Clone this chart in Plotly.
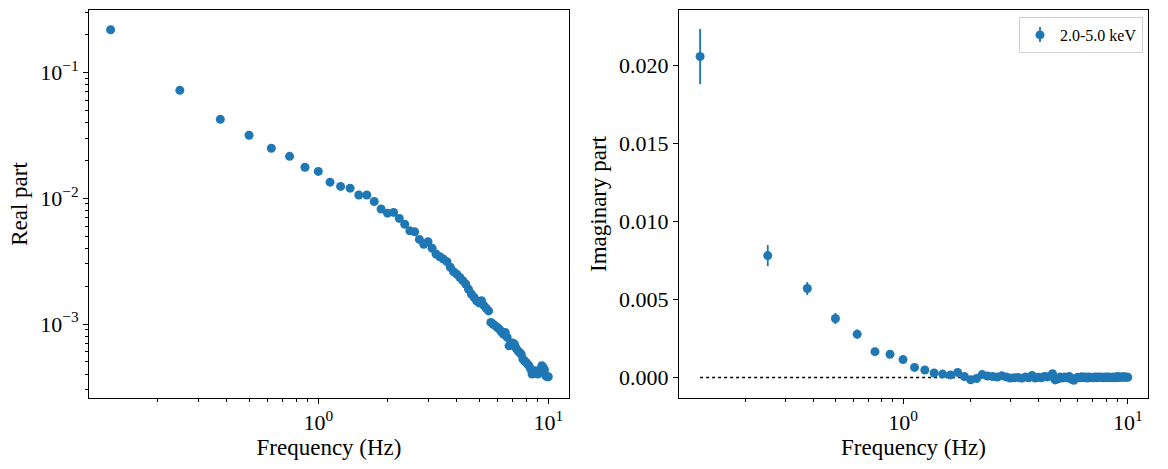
import plotly.graph_objects as go

freq = [0.125, 0.25, 0.375, 0.5, 0.625, 0.75, 0.875, 1.0, 1.125, 1.25,
        1.375, 1.5, 1.625, 1.75, 1.875, 2.0, 2.125, 2.25, 2.375, 2.5,
        2.625, 2.75, 2.875, 3.0, 3.125, 3.25, 3.375, 3.5, 3.625, 3.75,
        3.875, 4.0, 4.125, 4.25, 4.375, 4.5, 4.625, 4.75, 4.875, 5.0,
        5.125, 5.25, 5.375, 5.5, 5.625, 5.75, 5.875, 6.0, 6.125, 6.25,
        6.375, 6.5, 6.625, 6.75, 6.875, 7.0, 7.125, 7.25, 7.375, 7.5,
        7.625, 7.75, 7.875, 8.0, 8.125, 8.25, 8.375, 8.5, 8.625, 8.75,
        8.875, 9.0, 9.125, 9.25, 9.375, 9.5, 9.625, 9.75, 9.875, 10.0]

real_part = [0.218, 0.0719, 0.0423, 0.0316, 0.0249, 0.0215, 0.0176, 0.0163, 0.0134, 0.0124,
             0.0120, 0.0106, 0.0106, 0.0094, 0.0082, 0.0076, 0.0077, 0.0069, 0.0062, 0.0055,
             0.0054, 0.0047, 0.0043, 0.0045, 0.0040, 0.0036, 0.00342, 0.00328, 0.00313, 0.00282,
             0.0026, 0.00249, 0.00234, 0.00221, 0.00208, 0.00189, 0.00173, 0.00163, 0.00153, 0.00147,
             0.00153, 0.00140, 0.00133, 0.00127, 0.00103, 0.000998, 0.00097, 0.00094, 0.00091, 0.000868,
             0.00083, 0.000857, 0.000782, 0.000671, 0.00068, 0.000705, 0.000692, 0.00064, 0.000612, 0.000594,
             0.000576, 0.000526, 0.00051, 0.000495, 0.00048, 0.000465, 0.000438, 0.0004, 0.000407, 0.000425,
             0.000417, 0.0004, 0.000425, 0.000438, 0.000466, 0.000452, 0.000433, 0.000388, 0.000381, 0.000381]

imag_part = [0.02055, 0.0078, 0.00569, 0.00377, 0.00277, 0.00165, 0.00148, 0.00114, 0.00064, 0.00047,
             0.00028, 0.00021, 0.00016, 0.00031, 0.00006, -0.00015, -0.00007, 0.00018, 0.00009, 0.00006,
             0.00002, 0.00010, 0.00003, -0.00004, -0.00003, 0.00000, -0.00005, 0.00002, -0.00002, 0.00012,
             -0.00004, 0.00001, -0.00003, 0.00005, 0.00003, 0.00008, 0.00024, -0.00016, -0.00010, 0.00002,
             -0.00004, 0.00003, -0.00002, 0.00005, -0.00012, -0.00018, -0.00005, 0.00001, -0.00003, 0.00004,
             -0.00002, 0.00002, -0.00004, 0.00003, 0.00000, -0.00003, 0.00002, -0.00002, 0.00003, -0.00001,
             0.00002, -0.00003, 0.00001, 0.00002, -0.00002, 0.00003, 0.00000, -0.00002, 0.00002, 0.00001,
             -0.00003, 0.00005, 0.00002, -0.00001, 0.00003, 0.00004, 0.00002, 0.00001, 0.00003, 0.00001]

imag_err = [0.00177, 0.00068, 0.00042, 0.00036, 0.00030, 0.00025, 0.00022, 0.00020, 0.00017, 0.00015,
            0.00013, 0.00012, 0.00011, 0.00011, 0.00010, 0.00010, 0.00009, 0.00009, 0.00009, 0.00008,
            0.00008, 0.00008, 0.00008, 0.00007, 0.00007, 0.00007, 0.00007, 0.00007, 0.00006, 0.00006,
            0.00006, 0.00006, 0.00006, 0.00006, 0.00005, 0.00005, 0.00005, 0.00005, 0.00005, 0.00005,
            0.00005, 0.00005, 0.00005, 0.00004, 0.00004, 0.00004, 0.00004, 0.00004, 0.00004, 0.00004,
            0.00004, 0.00004, 0.00004, 0.00004, 0.00004, 0.00004, 0.00003, 0.00003, 0.00003, 0.00003,
            0.00003, 0.00003, 0.00003, 0.00003, 0.00003, 0.00003, 0.00003, 0.00003, 0.00003, 0.00003,
            0.00003, 0.00003, 0.00003, 0.00003, 0.00003, 0.00003, 0.00003, 0.00003, 0.00003, 0.00003]

zero_line_x = [0.125, 10.0]
zero_line_y = [0.0, 0.0]

x_tickvals = [1, 10]
x_ticktext = ["10<sup>0</sup>", "10<sup>1</sup>"]
x_minor = [0.2, 0.3, 0.4, 0.5, 0.6, 0.7, 0.8, 0.9, 2, 3, 4, 5, 6, 7, 8, 9]
yl_tickvals = [1e-3, 1e-2, 1e-1]
yl_ticktext = ["10<sup>\u22123</sup>", "10<sup>\u22122</sup>", "10<sup>\u22121</sup>"]
yl_minor = [3e-4, 4e-4, 5e-4, 6e-4, 7e-4, 8e-4, 9e-4,
            2e-3, 3e-3, 4e-3, 5e-3, 6e-3, 7e-3, 8e-3, 9e-3,
            2e-2, 3e-2, 4e-2, 5e-2, 6e-2, 7e-2, 8e-2, 9e-2, 2e-1, 3e-1]
yr_tickvals = [0.0, 0.005, 0.010, 0.015, 0.020]
yr_ticktext = ["0.000", "0.005", "0.010", "0.015", "0.020"]

BLUE = "#1f77b4"
FONT = "Liberation Serif, DejaVu Serif, serif"
W, H = 1168, 469
TICK_SIZE = 22
TITLE_SIZE = 23

fig = go.Figure()
fig.add_trace(go.Scatter(x=freq, y=real_part, mode="markers",
                         marker=dict(color=BLUE, size=9), showlegend=False,
                         xaxis="x", yaxis="y"))
fig.add_trace(go.Scatter(x=zero_line_x, y=zero_line_y, mode="lines",
                         line=dict(color="black", dash="dot", width=1.5), showlegend=False,
                         xaxis="x2", yaxis="y2"))
fig.add_trace(go.Scatter(x=freq, y=imag_part, mode="markers",
                         marker=dict(color=BLUE, size=9),
                         error_y=dict(type="data", array=imag_err, color=BLUE, thickness=1.8, width=0),
                         name="2.0-5.0 keV", showlegend=True, xaxis="x2", yaxis="y2"))

axis_common = dict(showline=True, linecolor="black", linewidth=1, mirror=True,
                   ticks="outside", ticklen=5, tickwidth=1, tickcolor="black",
                   showgrid=False, zeroline=False, automargin=False,
                   tickfont=dict(family=FONT, size=TICK_SIZE, color="black"))

def px(x):
    return x / W

def py(y):
    return 1 - y / H

x_range = [-0.997, 1.09]
minor_x = dict(tickmode="array", tickvals=x_minor, ticks="outside", ticklen=3,
               tickwidth=0.8, tickcolor="black", showgrid=False)
title_font = dict(family=FONT, size=TITLE_SIZE, color="black")

fig.update_layout(
    width=W, height=H,
    margin=dict(l=0, r=0, t=0, b=0),
    paper_bgcolor="white", plot_bgcolor="white",
    font=dict(family=FONT, color="black"),
    xaxis=dict(type="log", range=x_range, domain=[px(89), px(569)], anchor="y",
               tickvals=x_tickvals, ticktext=x_ticktext, minor=minor_x,
               title=dict(text="Frequency (Hz)", font=title_font, standoff=3),
               **axis_common),
    yaxis=dict(type="log", range=[-3.588, -0.505], domain=[py(398), py(10)], anchor="x",
               tickvals=yl_tickvals, ticktext=yl_ticktext,
               minor=dict(tickmode="array", tickvals=yl_minor, ticks="outside", ticklen=3,
                          tickwidth=0.8, tickcolor="black", showgrid=False),
               title=dict(text="Real part", font=title_font, standoff=6),
               **axis_common),
    xaxis2=dict(type="log", range=x_range, domain=[px(679), px(1148)], anchor="y2",
                tickvals=x_tickvals, ticktext=x_ticktext, minor=minor_x,
                title=dict(text="Frequency (Hz)", font=title_font, standoff=3),
                **axis_common),
    yaxis2=dict(range=[-0.00132, 0.02353], domain=[py(398), py(10)], anchor="x2",
                tickvals=yr_tickvals, ticktext=yr_ticktext,
                title=dict(text="Imaginary part", font=title_font, standoff=6),
                **axis_common),
    legend=dict(x=px(1143), y=py(17), xanchor="right", yanchor="top",
                bgcolor="rgba(255,255,255,0)", bordercolor="#d0d0d0", borderwidth=1,
                font=dict(family=FONT, size=16, color="black")),
    shapes=[dict(type="line", xref="paper", yref="paper", layer="above",
                 x0=px(1040), x1=px(1040), y0=py(27), y1=py(42),
                 line=dict(color=BLUE, width=1.8))],
)

fig.write_html("out.html")
